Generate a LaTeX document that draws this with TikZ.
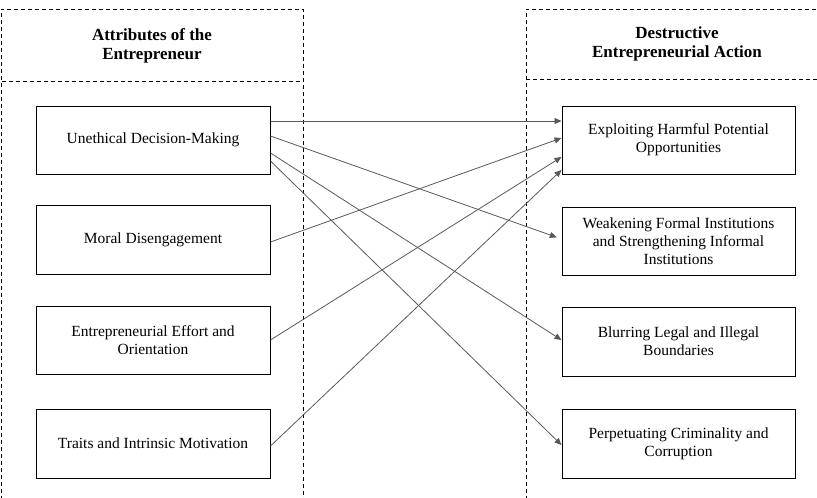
\documentclass[tikz,border=0pt]{standalone}
\usepackage{fontspec}
\setmainfont{Liberation Serif}
\usetikzlibrary{arrows.meta}
\begin{document}
\begin{tikzpicture}[x=1pt,y=-1pt,
  colline/.style={draw=black,line width=0.9pt,dash pattern=on 4pt off 3pt},
  boxnode/.style={draw=black,line width=1pt,minimum width=234pt,minimum height=68pt,align=center,font=\fontsize{15.5}{18.3}\selectfont,inner sep=2pt},
  headnode/.style={align=center,font=\bfseries\fontsize{17}{19.5}\selectfont},
  link/.style={draw=black!65,line width=0.8pt,-{Triangle[length=7pt,width=6pt]}}]
\useasboundingbox (0,0) rectangle (817,498);
% columns
\draw[colline] (1.5,500) -- (1.5,9) -- (303,9) -- (303,500);
\draw[colline] (1.5,81) -- (303,81);
\draw[colline] (526,500) -- (526,9) -- (818,9);
\draw[colline] (526,79) -- (818,79);
% headers
\node[headnode] (hl) at (152,46) {Attributes of the\\Entrepreneur};
\node[headnode] (hr) at (677,44) {Destructive\\Entrepreneurial Action};
% left boxes
\node[boxnode] (L1) at (153,140) {Unethical Decision-Making};
\node[boxnode,minimum height=69pt] (L2) at (153,239.5) {Moral Disengagement};
\node[boxnode] (L3) at (153,340) {Entrepreneurial Effort and\\Orientation};
\node[boxnode,minimum height=69pt] (L4) at (153,443.5) {Traits and Intrinsic Motivation};
% right boxes
\node[boxnode,minimum width=233pt] (R1) at (678.5,140) {Exploiting Harmful Potential\\Opportunities};
\node[boxnode,minimum width=233pt] (R2) at (678.5,241) {Weakening Formal Institutions\\and Strengthening Informal\\Institutions};
\node[boxnode,minimum width=233pt,minimum height=69pt] (R3) at (678.5,341.5) {Blurring Legal and Illegal\\Boundaries};
\node[boxnode,minimum width=233pt,minimum height=69pt] (R4) at (678.5,443.5) {Perpetuating Criminality and\\Corruption};
% links
\draw[link] ([yshift=19pt]L1.east) -- ([yshift=19pt]R1.west);
\draw[link,shorten >=5pt] ([yshift=4pt]L1.east) -- ([yshift=2pt]R2.west);
\draw[link] ([yshift=-13pt]L1.east) -- ([yshift=1.5pt]R3.west);
\draw[link] ([yshift=-21pt]L1.east) -- ([yshift=-1.5pt]R4.west);
\draw[link] ([yshift=-2.5pt]L2.east) -- ([yshift=2pt]R1.west);
\draw[link] (L3.east) -- ([yshift=-17pt]R1.west);
\draw[link] ([yshift=-2.5pt]L4.east) -- ([yshift=-30pt]R1.west);
\end{tikzpicture}
\end{document}
